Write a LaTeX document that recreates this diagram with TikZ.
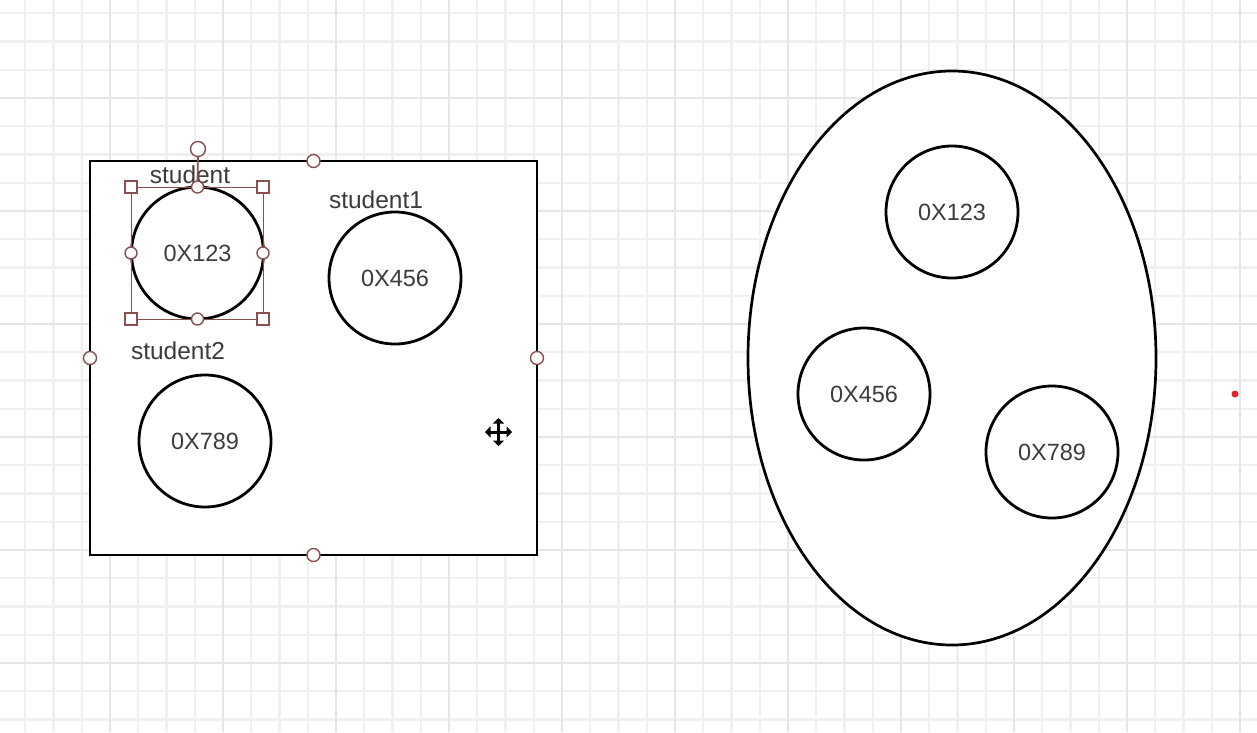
\documentclass[tikz,border=0pt]{standalone}
\usepackage{fontspec}
\setmainfont{Liberation Sans}
\usetikzlibrary{arrows.meta,shapes.geometric}
\definecolor{gridminor}{HTML}{F0F0F0}
\definecolor{gridmajor}{HTML}{E6E6E6}
\definecolor{handlecol}{HTML}{8A5050}
\definecolor{txt}{HTML}{3C3C3C}
\definecolor{dotred}{HTML}{E8202A}
\begin{document}
\begin{tikzpicture}[x=1pt,y=-1pt,
  memcircle/.style={circle, draw=black, line width=2.8pt, fill=white, minimum size=132pt, inner sep=0pt, font=\fontsize{23.5}{28}\selectfont, text=txt},
  varlabel/.style={anchor=base, inner sep=0pt, font=\fontsize{24.5}{29}\selectfont, text=txt},
  hcirc/.style={circle, draw=handlecol, line width=1.4pt, fill=white, minimum size=11pt, inner sep=0pt},
  hsq/.style={rectangle, draw=handlecol, line width=1.4pt, fill=white, minimum size=12pt, inner sep=0pt},
  movearrow/.style={line width=3pt, {Triangle[length=5.5pt,width=11pt]}-{Triangle[length=5.5pt,width=11pt]}}
]
\useasboundingbox (0,0) rectangle (1257,732);
\fill[white] (0,0) rectangle (1257,732);
% grid
\foreach \k in {0,...,45} {
  \pgfmathsetmacro\xx{-3+28.25*\k}
  \draw[gridminor, line width=2.2pt] (\xx,0) -- (\xx,732);
}
\foreach \k in {0,...,27} {
  \pgfmathsetmacro\yy{-15+28.25*\k}
  \draw[gridminor, line width=2.2pt] (0,\yy) -- (1257,\yy);
}
\foreach \k in {0,4,...,44} {
  \pgfmathsetmacro\xx{-3+28.25*\k}
  \draw[gridmajor, line width=2.4pt] (\xx,0) -- (\xx,732);
}
\foreach \k in {0,4,...,24} {
  \pgfmathsetmacro\yy{-15+28.25*\k}
  \draw[gridmajor, line width=2.4pt] (0,\yy) -- (1257,\yy);
}

% left: container box
\node[draw=black, line width=2.9pt, fill=white, minimum width=447pt, minimum height=394pt, inner sep=0pt] (box) at (313.5,358) {};
\node[memcircle] (c123) at (197.5,253) {0X123};
\node[memcircle] (c456) at (395,278) {0X456};
\node[memcircle] (c789) at (205,441) {0X789};
\node[varlabel] (lstudent) at (190,183) {student};
\node[varlabel] (lstudent1) at (376,208) {student1};
\node[varlabel] (lstudent2) at (178,359) {student2};

% selection frame around student circle
\draw[handlecol, line width=1pt] (131,187) rectangle (263,319);
\node[hcirc, minimum size=15pt] (rot) at (198,149) {};
\node[hcirc, minimum size=12pt] (hT) at (197.5,187) {};
\draw[handlecol, line width=1.8pt] (rot) -- (hT);
\node[hcirc, minimum size=12pt] (hB) at (197.5,319) {};
\node[hcirc, minimum size=12pt] (hL) at (131,253) {};
\node[hcirc, minimum size=12pt] (hR) at (263,253) {};
\node[hsq] (hTL) at (131,187) {};
\node[hsq] (hTR) at (263,187) {};
\node[hsq] (hBL) at (131,319) {};
\node[hsq] (hBR) at (263,319) {};

% box handles
\node[hcirc, minimum size=13pt] (bT) at (313.5,161) {};
\node[hcirc, minimum size=13pt] (bB) at (313.5,555) {};
\node[hcirc, minimum size=13pt] (bL) at (90,358) {};
\node[hcirc, minimum size=13pt] (bR) at (537,358) {};

% move cursor
\coordinate (mvL) at (485,432);
\coordinate (mvR) at (512,432);
\coordinate (mvT) at (498.5,418);
\coordinate (mvB) at (498.5,446);
\draw[movearrow] (mvL) -- (mvR);
\draw[movearrow] (mvT) -- (mvB);

% right: set ellipse
\node[ellipse, draw=black, line width=2.7pt, fill=white, minimum width=408pt, minimum height=574pt, inner sep=0pt] (set) at (952,358) {};
\node[memcircle] (s123) at (952,212) {0X123};
\node[memcircle] (s456) at (864,394) {0X456};
\node[memcircle] (s789) at (1052,452) {0X789};

% red dot
\node[circle, fill=dotred, minimum size=7pt, inner sep=0pt] (dot) at (1235,394) {};
\end{tikzpicture}
\end{document}
